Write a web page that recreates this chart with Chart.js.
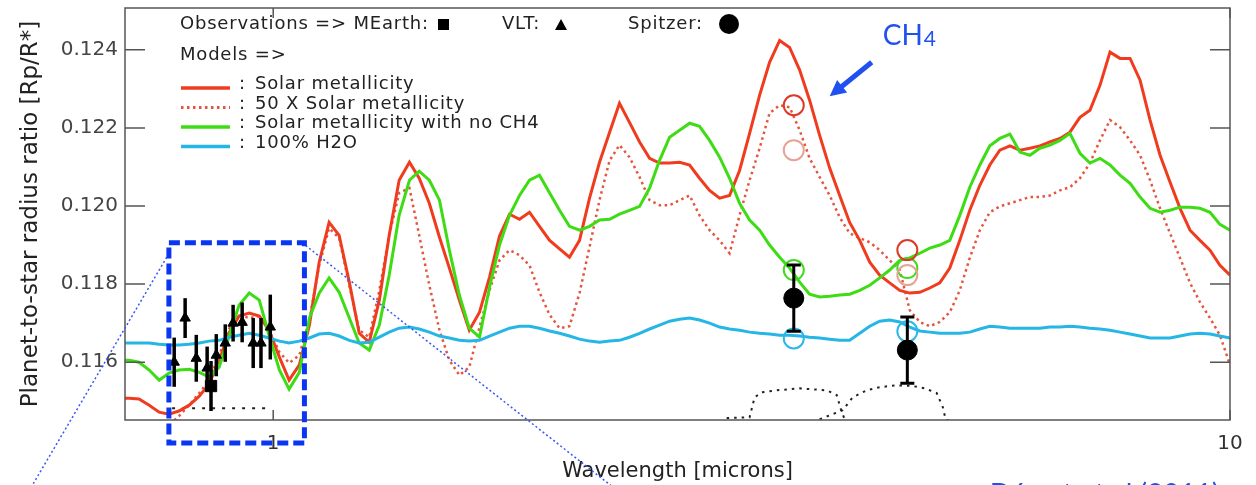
<!DOCTYPE html>
<html>
<head>
<meta charset="utf-8">
<title>Transmission spectrum</title>
<script src="https://cdn.jsdelivr.net/npm/chart.js@4.4.1/dist/chart.umd.min.js"></script>
<style>
  html, body { margin: 0; padding: 0; background: #fff; }
  #wrap { width: 1256px; height: 485px; position: relative; }
</style>
</head>
<body>
<div id="wrap"><canvas id="spectrum"></canvas></div>
<script>
// wavelength grid of the model curves (microns)
const wavelengths = [
  0.700, 0.707, 0.724, 0.742, 0.760, 0.778, 0.797, 0.817, 0.837, 0.857,
  0.878, 0.900, 0.921, 0.944, 0.967, 0.990, 1.015, 1.039, 1.065, 1.091,
  1.117, 1.144, 1.172, 1.201, 1.230, 1.260, 1.291, 1.322, 1.354, 1.388,
  1.421, 1.456, 1.492, 1.528, 1.565, 1.603, 1.643, 1.683, 1.724, 1.766,
  1.809, 1.853, 1.898, 1.945, 1.992, 2.040, 2.090, 2.141, 2.193, 2.247,
  2.301, 2.357, 2.415, 2.474, 2.534, 2.596, 2.659, 2.724, 2.790, 2.858,
  2.928, 2.999, 3.072, 3.147, 3.224, 3.302, 3.383, 3.465, 3.550, 3.636,
  3.725, 3.816, 3.909, 4.004, 4.102, 4.202, 4.304, 4.409, 4.517, 4.627,
  4.740, 4.855, 4.974, 5.095, 5.219, 5.346, 5.477, 5.610, 5.747, 5.888,
  6.031, 6.178, 6.329, 6.483, 6.642, 6.803, 6.969, 7.139, 7.313, 7.492,
  7.674, 7.862, 8.054, 8.250, 8.451, 8.657, 8.867, 9.083, 9.303, 9.530,
  9.761, 10.00
];

const solarMetal = [
  0.11508, 0.11508, 0.11506, 0.11490, 0.11472, 0.11467, 0.11475, 0.11490, 0.11513, 0.11544,
  0.11605, 0.11677, 0.11718, 0.11726, 0.11718, 0.11682, 0.11613, 0.11554, 0.11593, 0.11695,
  0.11856, 0.11958, 0.11925, 0.11805, 0.11674, 0.11651, 0.11759, 0.11925, 0.12066, 0.12112,
  0.12071, 0.12007, 0.11920, 0.11841, 0.11759, 0.11682, 0.11728, 0.11818, 0.11923, 0.11979,
  0.11966, 0.11984, 0.11948, 0.11912, 0.11890, 0.11869, 0.11912, 0.12020, 0.12112, 0.12189,
  0.12263, 0.12214, 0.12164, 0.12122, 0.12110, 0.12110, 0.12112, 0.12105, 0.12071, 0.12040,
  0.12020, 0.12027, 0.12091, 0.12186, 0.12284, 0.12368, 0.12424, 0.12406, 0.12348, 0.12271,
  0.12181, 0.12097, 0.12027, 0.11958, 0.11912, 0.11856, 0.11823, 0.11803, 0.11784, 0.11777,
  0.11779, 0.11790, 0.11803, 0.11841, 0.11912, 0.11989, 0.12053, 0.12105, 0.12143, 0.12154,
  0.12143, 0.12148, 0.12154, 0.12164, 0.12173, 0.12189, 0.12227, 0.12245, 0.12309, 0.12394,
  0.12378, 0.12378, 0.12322, 0.12220, 0.12130, 0.12061, 0.11994, 0.11938, 0.11912, 0.11887,
  0.11848, 0.11823
];

const metal50x = [
  0.11401, 0.11401, 0.11406, 0.11414, 0.11426, 0.11439, 0.11462, 0.11490, 0.11521, 0.11554,
  0.11618, 0.11687, 0.11721, 0.11713, 0.11718, 0.11682, 0.11626, 0.11598, 0.11618, 0.11708,
  0.11848, 0.11943, 0.11918, 0.11797, 0.11682, 0.11664, 0.11784, 0.11925, 0.12033, 0.12046,
  0.11925, 0.11797, 0.11682, 0.11605, 0.11567, 0.11587, 0.11690, 0.11784, 0.11861, 0.11887,
  0.11874, 0.11848, 0.11779, 0.11721, 0.11687, 0.11692, 0.11777, 0.11895, 0.12015, 0.12117,
  0.12156, 0.12125, 0.12074, 0.12015, 0.12002, 0.12002, 0.12015, 0.12027, 0.11976, 0.11938,
  0.11912, 0.11879, 0.11976, 0.12066, 0.12148, 0.12238, 0.12258, 0.12253, 0.12194, 0.12122,
  0.12074, 0.12027, 0.11971, 0.11930, 0.11918, 0.11907, 0.11887, 0.11861, 0.11836, 0.11733,
  0.11703, 0.11692, 0.11703, 0.11728, 0.11784, 0.11867, 0.11938, 0.11984, 0.11999, 0.12007,
  0.12015, 0.12023, 0.12023, 0.12027, 0.12040, 0.12048, 0.12071, 0.12110, 0.12168, 0.12220,
  0.12202, 0.12168, 0.12130, 0.12066, 0.11994, 0.11930, 0.11867, 0.11803, 0.11754, 0.11713,
  0.11669, 0.11593
];

const solarNoCH4 = [
  0.11605, 0.11605, 0.11600, 0.11580, 0.11554, 0.11572, 0.11580, 0.11582, 0.11574, 0.11562,
  0.11587, 0.11669, 0.11746, 0.11777, 0.11759, 0.11669, 0.11580, 0.11531, 0.11574, 0.11713,
  0.11777, 0.11816, 0.11779, 0.11713, 0.11649, 0.11631, 0.11695, 0.11823, 0.11976, 0.12066,
  0.12089, 0.12066, 0.12015, 0.11887, 0.11772, 0.11687, 0.11664, 0.11792, 0.11900, 0.11976,
  0.12027, 0.12066, 0.12079, 0.12033, 0.11989, 0.11948, 0.11938, 0.11948, 0.11964, 0.11966,
  0.11979, 0.11989, 0.11999, 0.12046, 0.12117, 0.12176, 0.12194, 0.12212, 0.12204, 0.12168,
  0.12125, 0.12071, 0.12007, 0.11964, 0.11938, 0.11900, 0.11869, 0.11841, 0.11805, 0.11774,
  0.11767, 0.11769, 0.11772, 0.11774, 0.11784, 0.11797, 0.11816, 0.11836, 0.11861, 0.11867,
  0.11879, 0.11892, 0.11900, 0.11912, 0.11976, 0.12048, 0.12105, 0.12154, 0.12173, 0.12184,
  0.12138, 0.12130, 0.12148, 0.12156, 0.12168, 0.12186, 0.12135, 0.12110, 0.12122, 0.12105,
  0.12079, 0.12058, 0.12023, 0.11994, 0.11984, 0.11989, 0.11997, 0.11997, 0.11994, 0.11984,
  0.11953, 0.11938
];

const water100 = [
  0.11649, 0.11649, 0.11649, 0.11649, 0.11646, 0.11644, 0.11644, 0.11646, 0.11649, 0.11654,
  0.11656, 0.11664, 0.11669, 0.11674, 0.11669, 0.11662, 0.11654, 0.11649, 0.11654, 0.11662,
  0.11672, 0.11674, 0.11667, 0.11656, 0.11649, 0.11651, 0.11664, 0.11677, 0.11687, 0.11690,
  0.11685, 0.11677, 0.11667, 0.11662, 0.11656, 0.11654, 0.11656, 0.11667, 0.11677, 0.11687,
  0.11692, 0.11692, 0.11687, 0.11680, 0.11674, 0.11667, 0.11659, 0.11654, 0.11651, 0.11654,
  0.11656, 0.11664, 0.11674, 0.11685, 0.11695, 0.11705, 0.11710, 0.11713, 0.11708, 0.11700,
  0.11690, 0.11685, 0.11682, 0.11677, 0.11674, 0.11672, 0.11669, 0.11669, 0.11667, 0.11664,
  0.11662, 0.11659, 0.11656, 0.11656, 0.11674, 0.11692, 0.11705, 0.11708, 0.11703, 0.11690,
  0.11680, 0.11677, 0.11674, 0.11674, 0.11674, 0.11677, 0.11685, 0.11692, 0.11690, 0.11687,
  0.11687, 0.11687, 0.11687, 0.11690, 0.11690, 0.11692, 0.11690, 0.11687, 0.11685, 0.11682,
  0.11677, 0.11672, 0.11667, 0.11662, 0.11662, 0.11662, 0.11667, 0.11672, 0.11674, 0.11672,
  0.11667, 0.11662
];

// observations
const vltWave  = [0.788, 0.809, 0.831, 0.853, 0.872, 0.891, 0.908, 0.928, 0.953, 0.971, 0.993];
const vltRatio = [0.11600, 0.11713, 0.11610, 0.11585, 0.11618, 0.11649, 0.11700, 0.11702, 0.11649, 0.11649, 0.11690];
const vltError = [0.00063, 0.00051, 0.00060, 0.00055, 0.00054, 0.00048, 0.00047, 0.00051, 0.00064, 0.00064, 0.00083];
const mearthWave  = [0.861];
const mearthRatio = [0.11539];
const mearthError = [0.00064];
const spitzerWave  = [3.5, 4.6];
const spitzerRatio = [0.11764, 0.11631];
const spitzerError = [0.00085, 0.00085];

// models integrated over the Spitzer bands
const bandSolar = [0.12258, 0.11887];
const band50x   = [0.12143, 0.11823];
const bandNoCH4 = [0.11836, 0.11841];
const bandWater = [0.11661, 0.11679];

// filter transmission curves (arbitrary scaling)
const filterOptWave = [0.784, 0.990];
const filterOpt     = [0.11482, 0.11482];
const filter36Wave = [2.978, 3.147, 3.185, 3.240, 3.359, 3.550, 3.789, 3.881, 3.928, 3.957];
const filter36     = [0.11457, 0.11459, 0.11510, 0.11523, 0.11528, 0.11533, 0.11528, 0.11516, 0.11472, 0.11454];
const filter45Wave = [3.725, 3.938, 4.033, 4.171, 4.304, 4.484, 4.660, 4.797, 4.937, 5.010, 5.046, 5.157];
const filter45     = [0.11454, 0.11477, 0.11510, 0.11528, 0.11536, 0.11541, 0.11539, 0.11533, 0.11521, 0.11485, 0.11452, 0.11449];

// axes
const xLabelled = [1, 10];
const xTicks = [0.7, 0.8, 0.9, 1, 2, 3, 4, 5, 6, 7, 8, 9, 10];
const yLabelled = [0.116, 0.118, 0.120, 0.122, 0.124];
const yTicks = [0.1145, 0.1150, 0.1155, 0.1160, 0.1165, 0.1170, 0.1175, 0.1180, 0.1185, 0.1190,
  0.1195, 0.1200, 0.1205, 0.1210, 0.1215, 0.1220, 0.1225, 0.1230, 0.1235, 0.1240, 0.1245, 0.1250];

// annotations, in data coordinates
const zoomBox = { lo: 0.778, hi: 1.078, bottom: 0.11393, top: 0.11906 };
const zoomRays = [[0.774, 0.11869, 0.5524, 0.11260], [1.072, 0.11906, 2.301, 0.11267]];
const ch4Label = { x: 4.335, y: 0.12412 };
const ch4Arrow = [4.222, 0.12368, 3.816, 0.12281];
const citation = { x: 5.61, y: 0.11236, text: 'Désert et al (2011)' };

const FONT = '"DejaVu Sans", sans-serif';
const pts = (xs, ys) => xs.map((x, i) => ({ x: x, y: ys[i] }));
const isIn = (list, v) => list.some(t => Math.abs(t - v) < 1e-7);

function modelLine(label, ys, color, width, dash, order) {
  return {
    label: label, data: pts(wavelengths, ys), showLine: true, borderColor: color,
    borderWidth: width, borderDash: dash, pointRadius: 0, tension: 0, order: order
  };
}
function bandCircles(ys, color, order) {
  return {
    data: pts(spitzerWave, ys), pointStyle: 'circle', pointRadius: 10, borderWidth: 2,
    borderColor: color, backgroundColor: 'rgba(0,0,0,0)', order: order
  };
}
function filterLine(xs, ys, dash) {
  return {
    data: pts(xs, ys), showLine: true, borderColor: '#222', borderWidth: 2,
    borderDash: dash, pointRadius: 0, order: 9
  };
}

const datasets = [
  modelLine('Solar metallicity', solarMetal, '#f03c1e', 3, [], 6),
  modelLine('50 X Solar metallicity', metal50x, '#e4553c', 2.5, [2.5, 3.5], 7),
  modelLine('Solar metallicity with no CH4', solarNoCH4, '#3ddc14', 3, [], 5),
  modelLine('100% H2O', water100, '#25b6e6', 3, [], 4),
  filterLine(filterOptWave, filterOpt, [3, 7]),
  filterLine(filter36Wave, filter36, [2.5, 5]),
  filterLine(filter45Wave, filter45, [2.5, 5]),
  bandCircles(bandSolar, '#dd3a26', 3),
  bandCircles(band50x, '#e6a494', 3),
  bandCircles(bandNoCH4, '#44d822', 3),
  bandCircles(bandWater, '#2ab8ea', 3),
  { label: 'VLT', data: pts(vltWave, vltRatio), errors: vltError, errorWidth: 3.5, errorCap: 0,
    pointStyle: 'triangle', pointRadius: 6, backgroundColor: '#000', borderColor: '#000', borderWidth: 1, order: 1 },
  { label: 'MEarth', data: pts(mearthWave, mearthRatio), errors: mearthError, errorWidth: 3.5, errorCap: 0,
    pointStyle: 'rect', pointRadius: 8, backgroundColor: '#000', borderColor: '#000', borderWidth: 1, order: 1 },
  { label: 'Spitzer', data: pts(spitzerWave, spitzerRatio), errors: spitzerError, errorWidth: 3, errorCap: 7,
    pointStyle: 'circle', pointRadius: 10, backgroundColor: '#000', borderColor: '#000', borderWidth: 1, order: 0 }
];

/* error bars on the observation markers */
const errorBars = {
  id: 'errorBars',
  afterDatasetsDraw(chart) {
    const { ctx, scales: { x, y } } = chart;
    ctx.save();
    chart.data.datasets.forEach(ds => {
      if (!ds.errors) return;
      ctx.strokeStyle = '#000';
      ctx.lineWidth = ds.errorWidth;
      ds.data.forEach((p, i) => {
        const px = x.getPixelForValue(p.x);
        const top = y.getPixelForValue(p.y + ds.errors[i]);
        const bot = y.getPixelForValue(p.y - ds.errors[i]);
        ctx.beginPath();
        ctx.moveTo(px, top); ctx.lineTo(px, bot);
        if (ds.errorCap) {
          ctx.moveTo(px - ds.errorCap, top); ctx.lineTo(px + ds.errorCap, top);
          ctx.moveTo(px - ds.errorCap, bot); ctx.lineTo(px + ds.errorCap, bot);
        }
        ctx.stroke();
      });
    });
    ctx.restore();
  }
};

/* box frame with inward ticks on all four sides */
const frameTicks = {
  id: 'frameTicks',
  afterDatasetsDraw(chart) {
    const { ctx, chartArea: a, scales: { x, y } } = chart;
    ctx.save();
    ctx.strokeStyle = '#555';
    ctx.lineWidth = 1.5;
    ctx.strokeRect(a.left, a.top, a.right - a.left, a.bottom - a.top);
    ctx.beginPath();
    y.ticks.forEach(t => {
      const py = y.getPixelForValue(t.value);
      const len = isIn(yLabelled, t.value) ? 20 : 11;
      ctx.moveTo(a.left, py); ctx.lineTo(a.left + len, py);
      ctx.moveTo(a.right, py); ctx.lineTo(a.right - len, py);
    });
    x.ticks.forEach(t => {
      const px = x.getPixelForValue(t.value);
      const len = isIn(xLabelled, t.value) ? 10 : 5;
      ctx.moveTo(px, a.bottom); ctx.lineTo(px, a.bottom - len);
      ctx.moveTo(px, a.top); ctx.lineTo(px, a.top + len);
    });
    ctx.stroke();
    ctx.restore();
  }
};

/* legend in the style of the original figure */
const figureLegend = {
  id: 'figureLegend',
  afterDraw(chart) {
    const ctx = chart.ctx;
    const ds = chart.data.datasets;
    ctx.save();
    ctx.font = '18px ' + FONT;
    ctx.letterSpacing = '0.8px';
    ctx.textBaseline = 'alphabetic';
    ctx.fillStyle = '#222';
    ctx.fillText('Observations => MEarth:', 180, 29);
    ctx.fillText('VLT:', 502, 29);
    ctx.fillText('Spitzer:', 628, 29);
    ctx.fillText('Models =>', 180, 60);
    ctx.fillStyle = '#000';
    ctx.fillRect(438, 19, 11, 11);
    ctx.beginPath();
    ctx.moveTo(561, 19); ctx.lineTo(567, 30); ctx.lineTo(555, 30); ctx.closePath();
    ctx.fill();
    ctx.beginPath();
    ctx.arc(729, 24, 10, 0, Math.PI * 2);
    ctx.fill();
    for (let i = 0; i < 4; i++) {
      const row = 88 + i * 19.5;
      ctx.strokeStyle = ds[i].borderColor;
      ctx.lineWidth = ds[i].borderWidth + 0.5;
      ctx.setLineDash(ds[i].borderDash);
      ctx.beginPath();
      ctx.moveTo(181, row); ctx.lineTo(230, row);
      ctx.stroke();
      ctx.setLineDash([]);
      ctx.fillStyle = '#222';
      ctx.fillText(':', 239, row + 1);
      ctx.fillText(ds[i].label, 255, row + 1);
    }
    ctx.restore();
  }
};

/* zoom box, rays, CH4 arrow and citation */
const annotations = {
  id: 'annotations',
  afterDraw(chart) {
    const { ctx, scales: { x, y } } = chart;
    const X = v => x.getPixelForValue(v), Y = v => y.getPixelForValue(v);
    ctx.save();
    ctx.strokeStyle = '#3a55f5';
    ctx.lineWidth = 1.5;
    ctx.setLineDash([2, 2.5]);
    zoomRays.forEach(r => {
      ctx.beginPath();
      ctx.moveTo(X(r[0]), Y(r[1])); ctx.lineTo(X(r[2]), Y(r[3]));
      ctx.stroke();
    });
    ctx.strokeStyle = '#0a36f2';
    ctx.lineWidth = 5;
    ctx.setLineDash([11, 5]);
    ctx.strokeRect(X(zoomBox.lo), Y(zoomBox.top), X(zoomBox.hi) - X(zoomBox.lo), Y(zoomBox.bottom) - Y(zoomBox.top));
    ctx.setLineDash([]);

    // CH4 label and arrow
    ctx.fillStyle = '#2050f0';
    ctx.font = '28px Lato, sans-serif';
    const cx = X(ch4Label.x), cy = Y(ch4Label.y);
    ctx.fillText('CH', cx, cy);
    ctx.font = '21px Lato, sans-serif';
    ctx.fillText('4', cx + ctx.measureText('CH').width * 1.33 + 1, cy + 1);
    const x0 = X(ch4Arrow[0]), y0 = Y(ch4Arrow[1]), x1 = X(ch4Arrow[2]), y1 = Y(ch4Arrow[3]);
    const ang = Math.atan2(y1 - y0, x1 - x0);
    ctx.strokeStyle = '#2050f0';
    ctx.lineWidth = 5;
    ctx.beginPath();
    ctx.moveTo(x0, y0);
    ctx.lineTo(x1 - 10 * Math.cos(ang), y1 - 10 * Math.sin(ang));
    ctx.stroke();
    ctx.beginPath();
    ctx.moveTo(x1, y1);
    ctx.lineTo(x1 - 16 * Math.cos(ang) + 8 * Math.sin(ang), y1 - 16 * Math.sin(ang) - 8 * Math.cos(ang));
    ctx.lineTo(x1 - 16 * Math.cos(ang) - 8 * Math.sin(ang), y1 - 16 * Math.sin(ang) + 8 * Math.cos(ang));
    ctx.closePath();
    ctx.fill();

    // citation, cut by the bottom edge as in the figure
    ctx.font = '28px Lato, sans-serif';
    ctx.fillText(citation.text, X(citation.x), Y(citation.y));
    ctx.restore();
  }
};

new Chart(document.getElementById('spectrum'), {
  type: 'scatter',
  data: { datasets: datasets },
  options: {
    responsive: true,
    maintainAspectRatio: false,
    animation: false,
    events: [],
    layout: { autoPadding: false, padding: { left: 0, right: 26, top: 8, bottom: 0 } },
    plugins: { legend: { display: false }, tooltip: { enabled: false } },
    scales: {
      x: {
        type: 'logarithmic', min: 0.7, max: 10,
        grid: { display: false, drawTicks: false },
        border: { display: false },
        afterBuildTicks: s => { s.ticks = xTicks.map(v => ({ value: v })); },
        afterFit: s => { s.height = 65; s.paddingLeft = 0; s.paddingRight = 0; },
        ticks: {
          autoSkip: false, maxRotation: 0, padding: 12, color: '#333',
          font: { family: FONT, size: 20 },
          callback: v => isIn(xLabelled, v) ? String(v) : null
        },
        title: {
          display: true, text: 'Wavelength [microns]', color: '#222',
          font: { family: FONT, size: 21 }, padding: { top: 0, bottom: 1 }
        }
      },
      y: {
        type: 'linear', min: 0.11452, max: 0.12507,
        grid: { display: false, drawTicks: false },
        border: { display: false },
        afterBuildTicks: s => { s.ticks = yTicks.map(v => ({ value: v })); },
        afterFit: s => { s.width = 125; s.paddingTop = 0; s.paddingBottom = 0; },
        ticks: {
          autoSkip: false, padding: 7, color: '#444',
          font: { family: FONT, size: 20 },
          callback: v => isIn(yLabelled, v) ? v.toFixed(3) : null
        },
        title: {
          display: true, text: 'Planet-to-star radius ratio [Rp/R*]', color: '#222',
          font: { family: FONT, size: 23 }, padding: { top: 17, bottom: 0 }
        }
      }
    }
  },
  plugins: [errorBars, frameTicks, figureLegend, annotations]
});
</script>
</body>
</html>
